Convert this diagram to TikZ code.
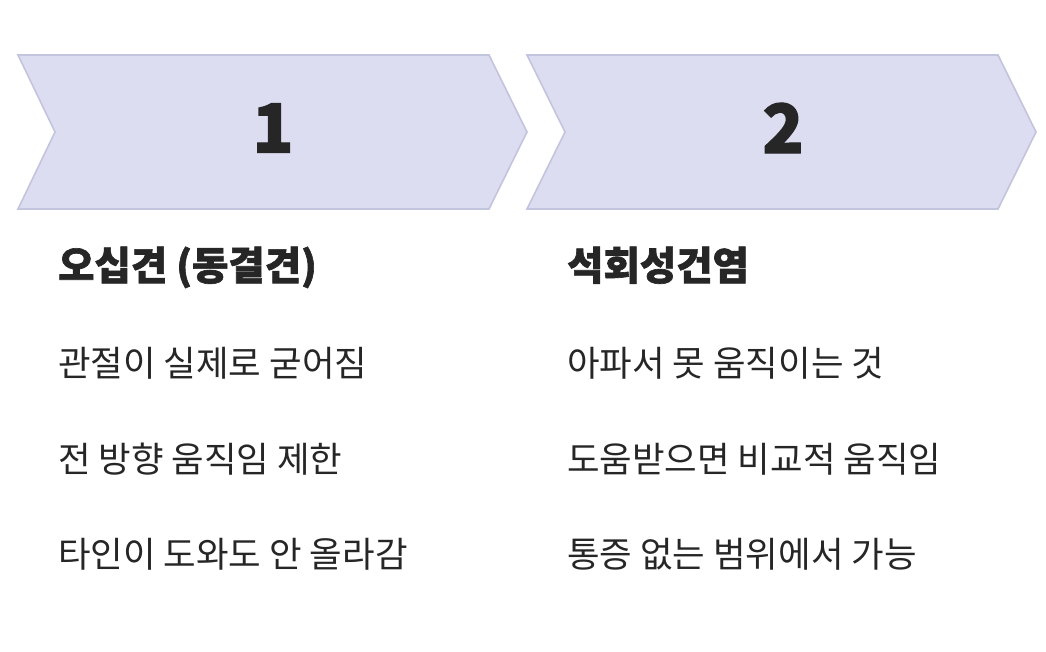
\documentclass[tikz,border=0pt]{standalone}
\usepackage{fontspec}
\setmainfont{Noto Sans CJK KR}
\newfontfamily\heavyfont[BoldFeatures={FakeBold=1.6}]{Noto Sans CJK KR}
\usepackage{tikz}
\definecolor{chevfill}{HTML}{DCDDF0}
\definecolor{chevline}{HTML}{C3C4DD}
\definecolor{ink}{HTML}{262626}
\tikzset{
	chev/.style={fill=chevfill, draw=chevline, line width=1.6pt, line join=miter},
	numtxt/.style={text=ink, font=\fontsize{68}{70}\selectfont\heavyfont\bfseries, inner sep=0pt},
	headtxt/.style={text=ink, font=\fontsize{39.5}{41}\selectfont\heavyfont\bfseries, inner sep=0pt, anchor=base west},
	bodytxt/.style={text=ink, font=\fontsize{35.4}{37}\selectfont, inner sep=0pt, anchor=base west}
}

\begin{document}
\begin{tikzpicture}[x=1pt, y=-1pt]
		%%%%% START %%%%%
		
		\useasboundingbox (0, 0) rectangle (1046, 652);
		
		\draw[chev] (18, 55) -- (489, 55) -- (527, 132) -- (489, 209) -- (18, 209) -- (55, 132) -- cycle;
		\draw[chev] (527, 55) -- (998, 55) -- (1036, 132) -- (998, 209) -- (527, 209) -- (565, 132) -- cycle;
		
		\node[numtxt] (num1) at (273, 128) {1};
		\node[numtxt] (num2) at (783, 128) {2};
		
		\node[headtxt] (head1) at (58, 280) {오십견 (동결견)};
		\node[headtxt] (head2) at (567, 280) {석회성건염};
		
		\node[bodytxt] (body1a) at (58, 376) {관절이 실제로 굳어짐};
		\node[bodytxt] (body1b) at (58, 472) {전 방향 움직임 제한};
		\node[bodytxt] (body1c) at (58, 567) {타인이 도와도 안 올라감};
		
		\node[bodytxt] (body2a) at (567, 376) {아파서 못 움직이는 것};
		\node[bodytxt] (body2b) at (567, 472) {도움받으면 비교적 움직임};
		\node[bodytxt] (body2c) at (567, 567) {통증 없는 범위에서 가능};
		
		%%%%% END %%%%%
\end{tikzpicture}
\end{document}
